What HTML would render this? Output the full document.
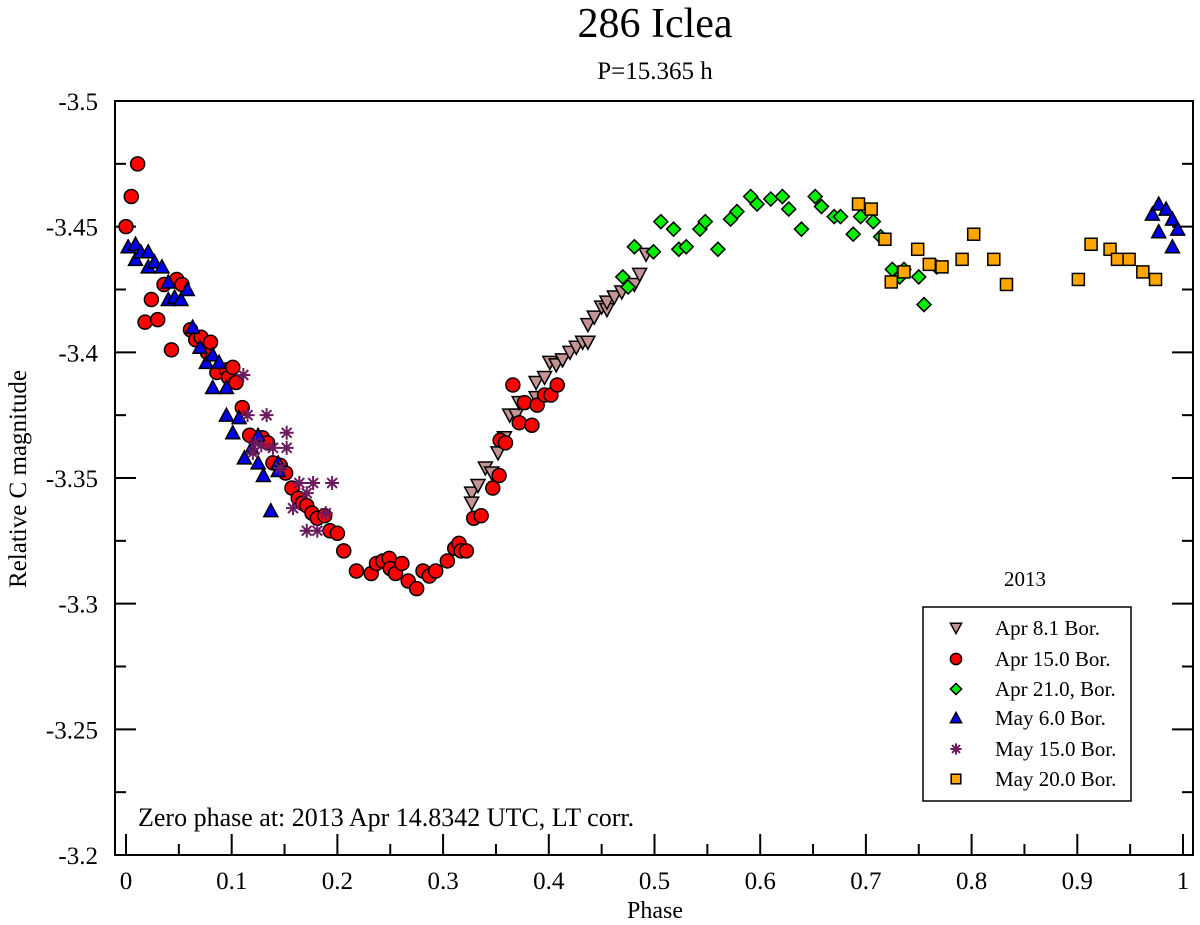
<!DOCTYPE html>
<html><head><meta charset="utf-8"><style>
body{margin:0;background:#fff}
svg{display:block;font-family:"Liberation Serif",serif}
</style></head><body>
<svg id="chart" width="1200" height="925" viewBox="0 0 1200 925">
<text x="655" y="37" font-size="42" text-anchor="middle">286 Iclea</text>
<text x="655" y="79" font-size="25" text-anchor="middle">P=15.365 h</text>
<rect x="115" y="101" width="1078" height="754" fill="none" stroke="#000" stroke-width="2"/>
<g id="axes"></g>
<g id="marks"></g>
<text x="655" y="918" font-size="24" text-anchor="middle">Phase</text>
<text transform="translate(26,479) rotate(-90)" font-size="25" text-anchor="middle">Relative C magnitude</text>
<text x="138" y="826" font-size="26">Zero phase at: 2013 Apr 14.8342 UTC, LT corr.</text>
<text x="1025" y="586" font-size="21" text-anchor="middle">2013</text>
<rect x="923" y="607" width="208" height="194" fill="#fff" stroke="#000" stroke-width="1.5"/>
<g id="legend"></g>
</svg>
<script>
const xTicks=[0,0.1,0.2,0.3,0.4,0.5,0.6,0.7,0.8,0.9,1];
const xTickLabels=["0","0.1","0.2","0.3","0.4","0.5","0.6","0.7","0.8","0.9","1"];
const yTicks=[-3.5,-3.45,-3.4,-3.35,-3.3,-3.25,-3.2];
const yTickLabels=["-3.5","-3.45","-3.4","-3.35","-3.3","-3.25","-3.2"];
const seriesNames=["Apr 8.1 Bor.","Apr 15.0 Bor.","Apr 21.0, Bor.","May 6.0 Bor.","May 15.0 Bor.","May 20.0 Bor."];
const apr8Phase=[.327,.327,.333,.340,.346,.352,.358,.363,.369,.372,.388,.388,.396,.401,.407,.413,.420,.426,.432,.437,.437,.443,.450,.455,.455,.462,.469,.481,.486,.492];
const apr8Mag=[-3.344,-3.340,-3.347,-3.354,-3.352,-3.360,-3.366,-3.375,-3.375,-3.380,-3.382,-3.388,-3.390,-3.396,-3.395,-3.397,-3.400,-3.402,-3.404,-3.404,-3.411,-3.414,-3.418,-3.417,-3.420,-3.422,-3.424,-3.427,-3.431,-3.439];
const apr15Phase=[0,.005,.011,.018,.024,.030,.036,.043,.048,.053,.061,.066,.071,.077,.080,.086,.095,.097,.101,.104,.110,.117,.129,.134,.139,.146,.151,.157,.163,.167,.171,.176,.181,.188,.193,.200,.206,.218,.232,.237,.243,.249,.250,.255,.261,.267,.275,.281,.287,.293,.304,.311,.315,.317,.322,.329,.336,.347,.353,.354,.359,.366,.372,.377,.384,.389,.396,.402,.408];
const apr15Mag=[-3.450,-3.462,-3.475,-3.412,-3.421,-3.413,-3.427,-3.401,-3.429,-3.427,-3.409,-3.405,-3.406,-3.400,-3.404,-3.392,-3.393,-3.390,-3.394,-3.388,-3.378,-3.367,-3.366,-3.364,-3.356,-3.355,-3.352,-3.346,-3.342,-3.340,-3.339,-3.336,-3.334,-3.335,-3.329,-3.328,-3.321,-3.313,-3.312,-3.316,-3.317,-3.318,-3.314,-3.312,-3.316,-3.309,-3.306,-3.313,-3.311,-3.313,-3.317,-3.322,-3.324,-3.321,-3.321,-3.334,-3.335,-3.346,-3.351,-3.365,-3.364,-3.387,-3.372,-3.380,-3.371,-3.379,-3.383,-3.383,-3.387];
const apr21Phase=[.470,.475,.481,.499,.506,.518,.523,.530,.543,.548,.560,.572,.578,.591,.597,.610,.621,.627,.639,.652,.658,.670,.676,.688,.695,.707,.714,.725,.732,.736,.750,.755,.767];
const apr21Mag=[-3.430,-3.426,-3.442,-3.440,-3.452,-3.449,-3.441,-3.442,-3.449,-3.452,-3.441,-3.453,-3.456,-3.462,-3.459,-3.461,-3.462,-3.457,-3.449,-3.462,-3.458,-3.454,-3.454,-3.447,-3.454,-3.452,-3.446,-3.433,-3.430,-3.433,-3.430,-3.419,-3.434];
const may6Phase=[.002,.009,.009,.014,.021,.021,.027,.034,.040,.040,.046,.052,.058,.063,.070,.076,.082,.088,.082,.095,.095,.107,.101,.125,.119,.112,.125,.130,.144,.144,.137,.971,.977,.984,.990,.995,.977,.990];
const may6Mag=[-3.442,-3.443,-3.437,-3.440,-3.440,-3.434,-3.436,-3.434,-3.428,-3.421,-3.422,-3.421,-3.425,-3.410,-3.402,-3.396,-3.399,-3.396,-3.386,-3.386,-3.375,-3.374,-3.368,-3.367,-3.362,-3.358,-3.356,-3.351,-3.356,-3.353,-3.337,-3.455,-3.459,-3.457,-3.453,-3.449,-3.448,-3.442];
const may15Phase=[.111,.115,.133,.152,.122,.128,.139,.152,.120,.146,.164,.177,.195,.171,.158,.189,.171,.181];
const may15Mag=[-3.391,-3.375,-3.375,-3.368,-3.364,-3.363,-3.362,-3.362,-3.360,-3.354,-3.348,-3.348,-3.348,-3.344,-3.338,-3.336,-3.329,-3.329];
const may20Phase=[.693,.705,.718,.749,.760,.736,.724,.772,.791,.802,.821,.833,.901,.913,.931,.938,.949,.962,.974];
const may20Mag=[-3.459,-3.457,-3.445,-3.441,-3.435,-3.432,-3.428,-3.434,-3.437,-3.447,-3.437,-3.427,-3.429,-3.443,-3.441,-3.437,-3.437,-3.432,-3.429];

const NS="http://www.w3.org/2000/svg";
const X0=126,X1=1183,Y0=101,Y1=855,L=115,R=1193;
function sx(p){return X0+(X1-X0)*p;}
function sy(m){return Y0+(Y1-Y0)*(m+3.5)/0.3;}
function mk(tag,attrs,parent){const e=document.createElementNS(NS,tag);for(const k in attrs)e.setAttribute(k,attrs[k]);parent.appendChild(e);return e;}
const axes=document.getElementById('axes');
xTicks.forEach((t,i)=>{
  const x=sx(t);
  const tk=mk('line',{x1:x,x2:x,y1:Y1,y2:Y1-21,stroke:'#000','stroke-width':2},axes);
  
  
  if(i<xTicks.length-1){const xm=sx(t+0.05);
    mk('line',{x1:xm,x2:xm,y1:Y1,y2:Y1-11,stroke:'#000','stroke-width':2},axes);}
  const lb=mk('text',{x:x,y:Y1+34,'font-size':25,'text-anchor':'middle'},axes);
  lb.textContent=xTickLabels[i];
  
  
});
yTicks.forEach((t,i)=>{
  const y=sy(t);
  const tk=mk('line',{x1:L,x2:L+21,y1:y,y2:y,stroke:'#000','stroke-width':2},axes);
  
  
  mk('line',{x1:R,x2:R-21,y1:y,y2:y,stroke:'#000','stroke-width':2},axes);
  if(i<yTicks.length-1){const ym=sy(t+0.025);
    mk('line',{x1:L,x2:L+11,y1:ym,y2:ym,stroke:'#000','stroke-width':2},axes);
    mk('line',{x1:R,x2:R-11,y1:ym,y2:ym,stroke:'#000','stroke-width':2},axes);}
  const lb=mk('text',{x:98,y:y+9,'font-size':25,'text-anchor':'end'},axes);
  lb.textContent=yTickLabels[i];
  
  
});
function sym(kind,x,y,s,parent){
  const st={stroke:'#000','stroke-width':1.5};
  let e;
  if(kind==='tdown'){e=mk('path',Object.assign({d:`M${x-7*s},${y-6*s}L${x+7*s},${y-6*s}L${x},${y+7*s}Z`,fill:'#c49393'},st),parent);}
  else if(kind==='circle'){e=mk('circle',Object.assign({cx:x,cy:y,r:7*s,fill:'#f00'},st),parent);}
  else if(kind==='diamond'){e=mk('path',Object.assign({d:`M${x},${y-7*s}L${x+7*s},${y}L${x},${y+7*s}L${x-7*s},${y}Z`,fill:'#00ee00'},st),parent);}
  else if(kind==='tup'){e=mk('path',Object.assign({d:`M${x-7*s},${y+6*s}L${x+7*s},${y+6*s}L${x},${y-7*s}Z`,fill:'#0000ee'},st),parent);}
  else if(kind==='star'){let d='';for(let a=0;a<4;a++){const an=a*Math.PI/4,c=Math.cos(an)*7*s,si=Math.sin(an)*7*s;d+=`M${x-c},${y-si}L${x+c},${y+si}`;}
    e=mk('path',{d:d,stroke:'#6b1a5e','stroke-width':2,fill:'none'},parent);}
  else {e=mk('rect',Object.assign({x:x-6*s,y:y-6*s,width:12*s,height:12*s,fill:'#ffa500'},st),parent);}
  return e;
}
const marks=document.getElementById('marks');
const series=[['tdown',apr8Phase,apr8Mag,'apr8'],['circle',apr15Phase,apr15Mag,'apr15'],['diamond',apr21Phase,apr21Mag,'apr21'],['tup',may6Phase,may6Mag,'may6'],['star',may15Phase,may15Mag,'may15'],['square',may20Phase,may20Mag,'may20']];
series.forEach(s=>{
  s[1].forEach((p,i)=>{
    const e=sym(s[0],sx(p),sy(s[2][i]),1,marks);
    
    
  });
});
const legend=document.getElementById('legend');
const legY=[628,659,689,718,749,779];
series.forEach((s,i)=>{
  const e=sym(s[0],956,legY[i],0.8,legend);
  
  
  const t=mk('text',{x:995,y:legY[i]+7,'font-size':21},legend);
  t.textContent=seriesNames[i];
  
  
});
</script>
</body></html>
